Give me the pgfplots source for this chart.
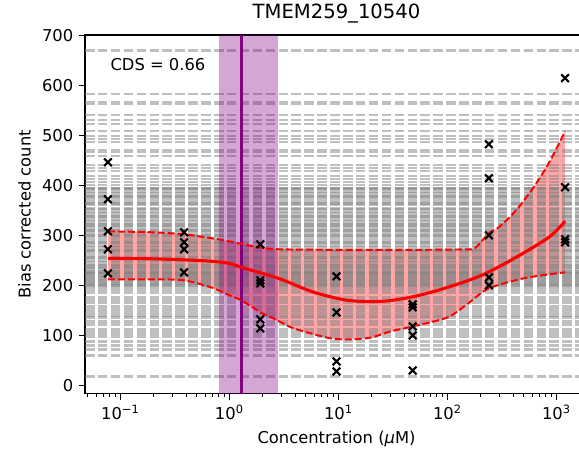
\documentclass[border=0pt]{standalone}
\usepackage{fontspec}
\setmainfont{DejaVu Sans}
\usepackage{pgfplots}
\pgfplotsset{compat=1.18}
\usepackage{pgfplotstable}
\usepgfplotslibrary{fillbetween}

\definecolor{mplpurple}{RGB}{128,0,128}

% fitted mean and band
\pgfplotstableread{
x y
0.0768 254
0.2 253
0.384 251
0.7 248
1 244
1.29 236
2 224
3 212
6 186
12.3 170
25 168
50 178
100 196
205 220
410 254
850 296
1200 328
}\meantab

\pgfplotstableread{
x y
0.0768 308
0.2 306
0.384 302
0.7 294
1 288
1.5 280
2 275
3 272
10 271
50 271
150 272
178 274
240 304
295 316
410 346
590 390
850 444
1200 508
}\uptab

\pgfplotstableread{
x y
0.0768 212
0.2 212
0.384 210
0.7 195
1 180
1.29 170
2 144
2.43 136
3.7 116
5.6 104
8.6 94
13 92
20 96
30 108
48 118
100 136
155 164
240 194
500 214
1000 224
1200 226
}\lotab

% measured counts
\pgfplotstableread{
x y
0.0768 446
0.0768 372
0.0768 308
0.0768 272
0.0768 224
0.384 306
0.384 286
0.384 272
0.384 226
1.92 282
1.92 210
1.92 204
1.92 132
1.92 114
9.6 218
9.6 146
9.6 48
9.6 28
48 162
48 156
48 118
48 100
48 30
240 482
240 414
240 300
240 216
240 200
1200 614
1200 396
1200 292
1200 286
}\pts

\begin{document}
\begin{tikzpicture}
\begin{axis}[
    name=ax,
    scale only axis,
    width=308pt, height=219.5pt,
    xmode=log,
    xmin=0.0474, xmax=1946,
    ymin=-16, ymax=700,
    axis line style={line width=0.8pt},
    tick align=outside,
    tick pos=left,
    major tick length=3.7pt,
    minor tick length=2pt,
    every tick/.style={black, line width=0.6pt},
    xtick={0.1,1,10,100,1000},
    xticklabels={10\textsuperscript{−1},10\textsuperscript{0},10\textsuperscript{1},10\textsuperscript{2},10\textsuperscript{3}},
    minor xtick={0.05,0.06,0.07,0.08,0.09,0.2,0.3,0.4,0.5,0.6,0.7,0.8,0.9,2,3,4,5,6,7,8,9,20,30,40,50,60,70,80,90,200,300,400,500,600,700,800,900},
    ytick={0,100,...,700},
    /pgf/number format/assume math mode=true,
    ticklabel style={font=\fontsize{10}{12}\selectfont},
    label style={font=\fontsize{10}{12}\selectfont},
    xlabel={Concentration ({\itshape μ}M)},
    ylabel={Bias corrected count},
    title={TMEM259\_10540},
    title style={font=\fontsize{12}{14}\selectfont, yshift=-2pt},
]
% background horizontal dashed lines
\pgfplotsinvokeforeach{669,582,566,563,541,531,522,508,498,493,486,470,466,458,
  440,434,428,418,412,406,401,395,390,386,381,376,370,366,360,355,350,344,338,334,330,
  325,320,316,311,306,302,298,292,288,282,278,272,268,262,258,252,248,242,238,232,228,
  222,218,212,207,202,196,190,185,176,170,165,158,152,146,140,136,128,122,112,106,101,
  97,88,80,72,60,18,
  394,384,374,364,346,336,328,318,308,296,286,276,266,256,246,236,226,216,210,200,
  392,378,362,352,340,322,313,300,284,270,254,240,224,204}{
  \addplot[gray, opacity=0.5, line width=1.4pt, dash pattern=on 5.8pt off 2.1pt]
    coordinates {(0.0474,#1) (1946,#1)};
}
% purple band and line
\addplot[fill=mplpurple, fill opacity=0.35, draw=none]
  coordinates {(0.805,-100) (0.805,1000) (2.80,1000) (2.80,-100)} -- cycle;
\addplot[mplpurple, line width=1.5pt] coordinates {(1.29,-100) (1.29,1000)};
% points
\addplot[only marks, mark=x, black, mark size=3.3pt, mark options={line width=1.3pt}]
  table {\pts};
% band
\addplot[draw=none, smooth, name path=up] table {\uptab};
\addplot[draw=none, smooth, name path=lo] table {\lotab};
\addplot[red, fill opacity=0.35] fill between[of=up and lo];
\addplot[red, smooth, line width=1.2pt, dash pattern=on 4.3pt off 1.8pt] table {\uptab};
\addplot[red, smooth, line width=1.2pt, dash pattern=on 4.3pt off 1.8pt] table {\lotab};
\addplot[red, smooth, line width=1.9pt] table {\meantab};
\node[anchor=north west, inner sep=0pt, font=\fontsize{10}{12}\selectfont]
  at (rel axis cs:0.05,0.935) {CDS = 0.66};
\end{axis}
\pgfresetboundingbox
\path ([xshift=-52.1pt, yshift=-39.2pt]ax.south west) rectangle ([xshift=-5.5pt, yshift=21.5pt]ax.north east);
\end{tikzpicture}
\end{document}
